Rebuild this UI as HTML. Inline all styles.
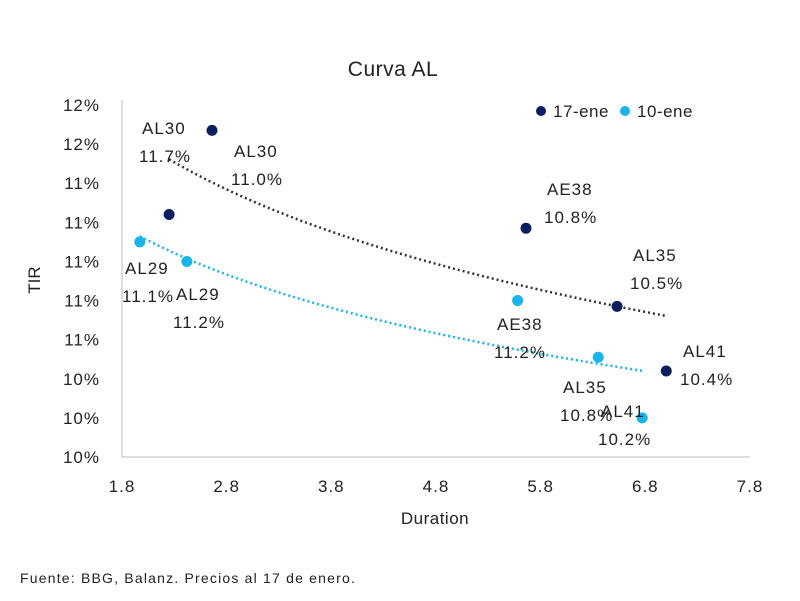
<!DOCTYPE html>
<html><head><meta charset="utf-8"><style>
body{margin:0;background:#fff;width:800px;height:596px;overflow:hidden;font-family:"Liberation Sans",sans-serif;}
svg text{font-family:"Liberation Sans",sans-serif;fill:#222;}
</style></head><body>
<svg id="chart" width="800" height="596">
<text x="393" y="76" font-size="21" text-anchor="middle" letter-spacing="0.5">Curva AL</text>
<text x="40" y="280" font-size="17" text-anchor="middle" transform="rotate(-90 40 280)">TIR</text>
<text x="435" y="524" font-size="17" text-anchor="middle" letter-spacing="0.5">Duration</text>
<text x="20" y="583" font-size="14" letter-spacing="1.2">Fuente: BBG, Balanz. Precios al 17 de enero.</text>
<g>
<circle cx="541" cy="111" r="5" fill="#0b1f5e"/>
<text x="553" y="117" font-size="17" letter-spacing="0.5">17-ene</text>
<circle cx="625" cy="111" r="5" fill="#1ab4e8"/>
<text x="637" y="117" font-size="17" letter-spacing="0.5">10-ene</text>
</g>
<g id="g"></g>
</svg>
<script>
const xTicks=[1.8,2.8,3.8,4.8,5.8,6.8,7.8];
const yTicks=[10.0,10.2,10.4,10.6,10.8,11.0,11.2,11.4,11.6,11.8];
const yTickLabels=["10%","10%","10%","11%","11%","11%","11%","11%","12%","12%"];
const dur17=[2.66,2.25,5.66,6.53,7.0];
const tir17=[11.67,11.24,11.17,10.77,10.44];
const dur10=[1.97,2.42,5.58,6.35,6.77];
const tir10=[11.10,11.0,10.80,10.51,10.20];
const labelNames=["AL30","AL30","AE38","AL35","AL41","AL29","AL29","AE38","AL35","AL41"];
const labelValues=["11.7%","11.0%","10.8%","10.5%","10.4%","11.1%","11.2%","11.2%","10.8%","10.2%"];
const labelPos=[[142,134],[234,157],[547,195],[633,261],[683,357],[125,274],[176,300],[497,330],[563,393],[601,417]];

const X0=122,X1=750,Y0=457,Y1=105;
const xs=d=>X0+(d-1.8)/6*(X1-X0);
const ys=v=>Y0-(v-10)/1.8*(Y0-Y1);
const NS="http://www.w3.org/2000/svg";
const g=document.getElementById('g');
function mk(t,a){const e=document.createElementNS(NS,t);for(const k in a)e.setAttribute(k,a[k]);g.appendChild(e);return e;}
let e=mk('line',{x1:X0,y1:100,x2:X0,y2:Y0,stroke:'#bbb'});


e=mk('line',{x1:X0,y1:Y0,x2:X1,y2:Y0,stroke:'#bbb'});


xTicks.forEach(t=>{const el=mk('text',{x:xs(t),y:Y0+35,'font-size':17,'text-anchor':'middle','letter-spacing':1});el.textContent=t.toFixed(1);

});
yTicks.forEach((t,i)=>{const el=mk('text',{x:X0-22,y:ys(t)+6,'font-size':17,'text-anchor':'end','letter-spacing':1});el.textContent=yTickLabels[i];

});
function trend(dx,ty,color,name){
  const n=dx.length;let sx=0,sy=0,sxx=0,sxy=0;
  dx.forEach((d,i)=>{const l=Math.log(d);sx+=l;sy+=ty[i];sxx+=l*l;sxy+=l*ty[i];});
  const b=(n*sxy-sx*sy)/(n*sxx-sx*sx),a=(sy-b*sx)/n;
  const lo=Math.min(...dx),hi=Math.max(...dx);let p='';
  for(let k=0;k<=40;k++){const d=lo+(hi-lo)*k/40;p+=(k?'L':'M')+xs(d)+','+ys(a+b*Math.log(d));}
  const el=mk('path',{d:p,fill:'none',stroke:color,'stroke-width':2.5,'stroke-dasharray':'2 3'});
  
  
}
trend(dur17,tir17,'#333','trendline-17-ene');
trend(dur10,tir10,'#1ab4e8','trendline-10-ene');
dur17.forEach((d,i)=>{const el=mk('circle',{cx:xs(d),cy:ys(tir17[i]),r:5.5,fill:'#0b1f5e'});

});
dur10.forEach((d,i)=>{const el=mk('circle',{cx:xs(d),cy:ys(tir10[i]),r:5.5,fill:'#1ab4e8'});

});
labelNames.forEach((n,i)=>{const [x,y]=labelPos[i];
 const t1=mk('text',{x:x,y:y,'font-size':17,'letter-spacing':1});t1.textContent=n;
 
 
 const t2=mk('text',{x:x-3,y:y+28,'font-size':17,'letter-spacing':1});t2.textContent=labelValues[i];
 
 });
</script>
</body></html>
